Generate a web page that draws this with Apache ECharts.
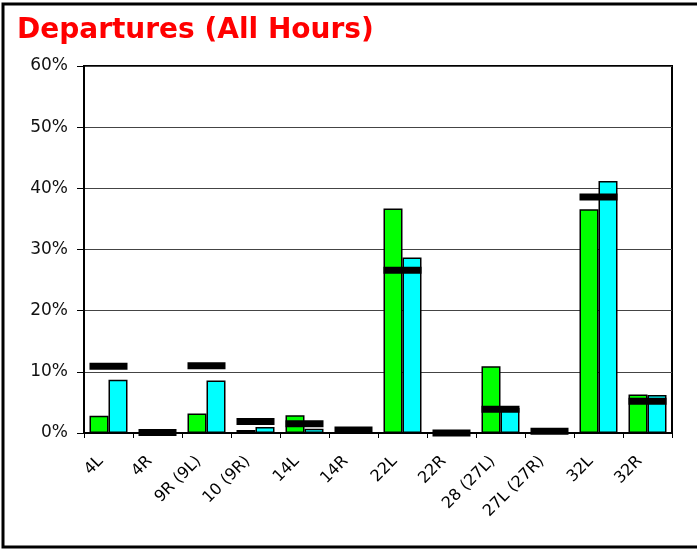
<!DOCTYPE html>
<html>
<head>
<meta charset="utf-8">
<script src="https://cdn.jsdelivr.net/npm/echarts@6/dist/echarts.min.js"></script>
<style>
  html, body { margin: 0; padding: 0; background: #fff; }
  #main { width: 697px; height: 550px; }
</style>
</head>
<body>
<div id="main"></div>
<script>
// runway categories
var runways = ['4L', '4R', '9R (9L)', '10 (9R)', '14L', '14R', '22L', '22R', '28 (27L)', '27L (27R)', '32L', '32R'];
// green and cyan bars (percent)
var greenVals = [2.8, 0, 3.2, 0.5, 2.9, 0, 36.7, 0, 10.9, 0, 36.6, 6.3];
var cyanVals = [8.7, 0, 8.6, 1.0, 0.7, 0, 28.7, 0, 4.1, 0, 41.2, 6.2];
// black marker levels (percent)
var markVals = [10.9, 0.1, 11.0, 1.9, 1.5, 0.5, 26.6, 0, 3.9, 0.3, 38.6, 5.2];
var yTicks = [0, 10, 20, 30, 40, 50, 60];

var myChart = echarts.init(document.getElementById('main'));

var option = {
  animation: false,
  backgroundColor: '#fff',
  textStyle: { fontFamily: 'DejaVu Sans' },
  title: {
    text: 'Departures (All Hours)',
    left: 12,
    top: 12,
    textStyle: { color: '#ff0000', fontSize: 28, fontWeight: 'bold', fontFamily: 'DejaVu Sans' }
  },
  graphic: [{
    type: 'rect',
    shape: { x: 3, y: 4, width: 720, height: 543 },
    style: { fill: null, stroke: '#000', lineWidth: 3 },
    silent: true
  }],
  grid: {
    left: 84, right: 25, top: 66, bottom: 117,
    show: true, borderColor: '#000', borderWidth: 2, backgroundColor: 'transparent'
  },
  xAxis: {
    type: 'category',
    data: runways,
    axisLine: { lineStyle: { color: '#000', width: 2 } },
    axisTick: { show: true, length: 5, lineStyle: { color: '#000' } },
    axisLabel: {
      interval: 0, rotate: 45, fontSize: 16, color: '#000', margin: 18,
      padding: [0, 11, 0, 0]
    }
  },
  yAxis: {
    type: 'value',
    min: yTicks[0],
    max: yTicks[yTicks.length - 1],
    interval: 10,
    axisLine: { show: true, lineStyle: { color: '#000', width: 2 } },
    axisTick: { show: true, inside: false, length: 7, lineStyle: { color: '#000' } },
    axisLabel: { formatter: '{value}%', fontSize: 17, color: '#111', margin: 16 },
    splitLine: { show: true, lineStyle: { color: '#444', width: 1 } }
  },
  series: [{
    name: 'green',
    type: 'bar',
    data: greenVals,
    barWidth: 19,
    barGap: '0%',
    itemStyle: { color: '#00ff00', borderColor: '#000', borderWidth: 1.5 }
  }, {
    name: 'cyan',
    type: 'bar',
    data: cyanVals,
    barWidth: 19,
    itemStyle: { color: '#00ffff', borderColor: '#000', borderWidth: 1.5 }
  }, {
    name: 'mark',
    type: 'scatter',
    data: markVals,
    symbol: 'rect',
    symbolSize: [38, 7],
    z: 5,
    itemStyle: { color: '#000', opacity: 1 }
  }]
};

myChart.setOption(option);
</script>
</body>
</html>
